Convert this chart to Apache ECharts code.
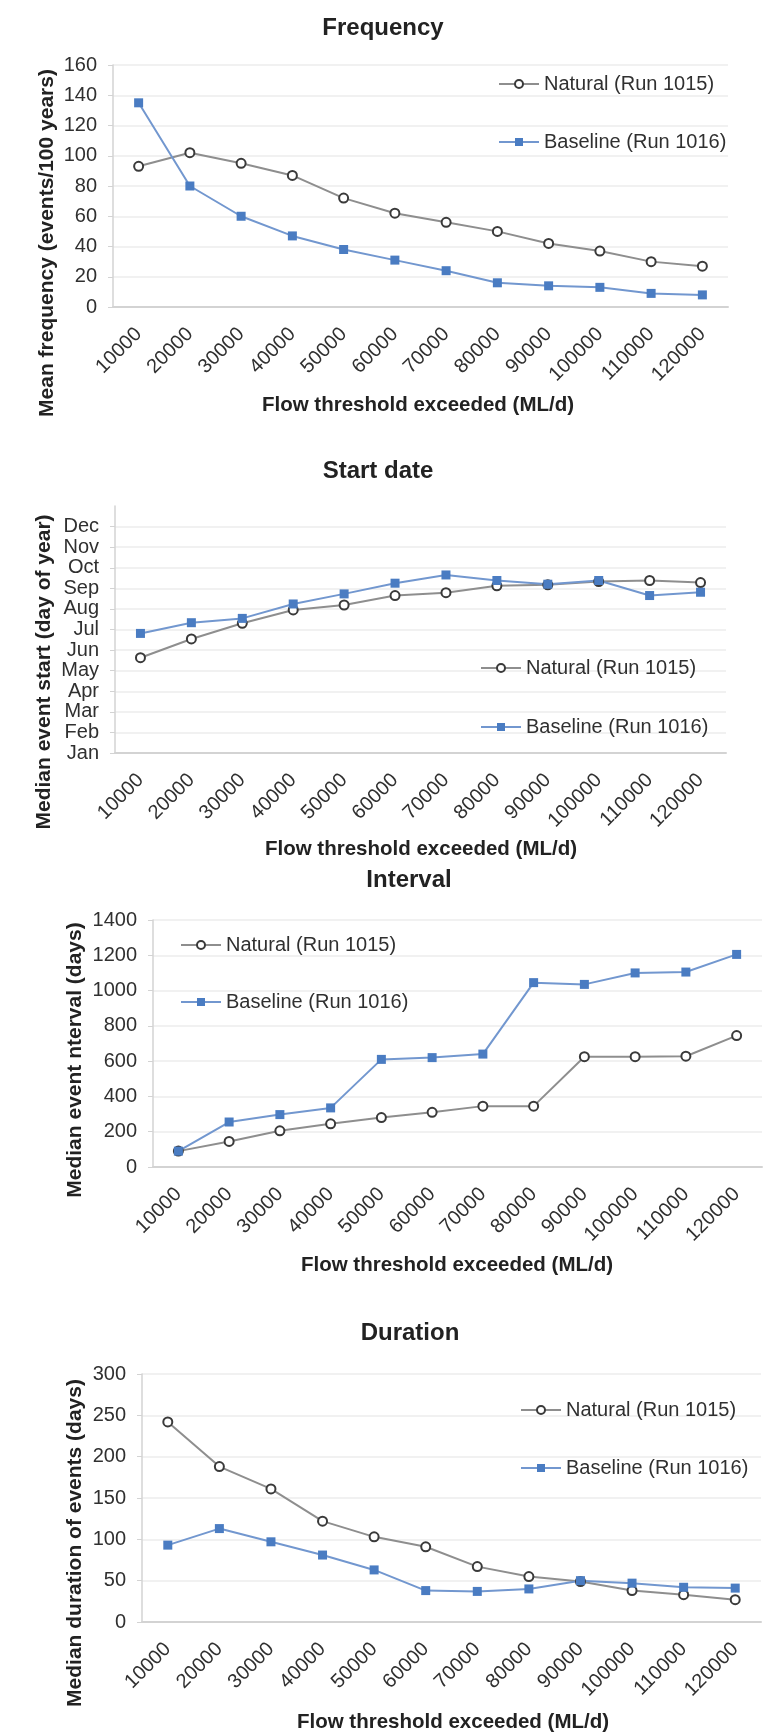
<!DOCTYPE html>
<html><head><meta charset="utf-8">
<script src="https://cdn.jsdelivr.net/npm/echarts@6/dist/echarts.min.js"></script>
<style>html,body{margin:0;padding:0;background:#fff}#c{width:776px;height:1733px}</style>
</head><body><div id="c"></div>
<script>
// ---------- data ----------
const thresholds = ['10000','20000','30000','40000','50000','60000','70000','80000','90000','100000','110000','120000'];
const seriesNames = ['Natural (Run 1015)', 'Baseline (Run 1016)'];
const panelTitles = ['Frequency', 'Start date', 'Interval', 'Duration'];
const yAxisTitles = ['Mean frequency (events/100 years)', 'Median event start (day of year)', 'Median event nterval (days)', 'Median duration of events (days)'];
const xAxisTitle = 'Flow threshold exceeded (ML/d)';
const monthLabels = ['Jan','Feb','Mar','Apr','May','Jun','Jul','Aug','Sep','Oct','Nov','Dec'];

const frequencyNatural  = [93, 102, 95, 87, 72, 62, 56, 50, 42, 37, 30, 27];
const frequencyBaseline = [135, 80, 60, 47, 38, 31, 24, 16, 14, 13, 9, 8];

// start date in month units (0 = Jan gridline)
const startNatural  = [4.63, 5.54, 6.30, 6.95, 7.19, 7.65, 7.79, 8.12, 8.17, 8.33, 8.38, 8.28];
const startBaseline = [5.81, 6.33, 6.54, 7.24, 7.73, 8.25, 8.65, 8.38, 8.20, 8.38, 7.65, 7.81];

const intervalNatural  = [90, 145, 205, 245, 280, 310, 345, 345, 625, 625, 628, 745];
const intervalBaseline = [90, 255, 297, 335, 610, 620, 640, 1045, 1035, 1100, 1105, 1205];

const durationNatural  = [242, 188, 161, 122, 103, 91, 67, 55, 49, 38, 33, 27];
const durationBaseline = [93, 113, 97, 81, 63, 38, 37, 40, 50, 47, 42, 41];

const yMin = [0, 0, 0, 0];
const yMax = [160, 12, 1400, 300];
const yInterval = [20, 1, 200, 50];

// ---------- layout ----------
const layouts = [
  {grid:{left:113, top:65,   width:615, height:242}, title:[383,28],   yTitle:[47,243],  xTitle:[418,405],  legend:{left:493, top:69,   gap:38}},
  {grid:{left:115, top:506,  width:611, height:247}, title:[378,471],  yTitle:[44,672],  xTitle:[421,849],  legend:{left:475, top:653,  gap:39}},
  {grid:{left:153, top:920,  width:609, height:247}, title:[409,880],  yTitle:[75,1060], xTitle:[457,1265], legend:{left:175, top:930,  gap:37}},
  {grid:{left:142, top:1374, width:619, height:248}, title:[410,1333], yTitle:[75,1543], xTitle:[453,1722], legend:{left:515, top:1395, gap:38}}
];
const naturalData  = [frequencyNatural, startNatural, intervalNatural, durationNatural];
const baselineData = [frequencyBaseline, startBaseline, intervalBaseline, durationBaseline];

const FONT = '"Liberation Sans", Arial, Helvetica, sans-serif';
const TXT = '#303030';

const option = {
  animation: false,
  backgroundColor: '#fff',
  grid: [], xAxis: [], yAxis: [], series: [], legend: [], graphic: []
};

layouts.forEach((L, i) => {
  option.grid.push(Object.assign({containLabel:false}, L.grid));
  option.xAxis.push({
    type:'category', gridIndex:i, data:thresholds, boundaryGap:true,
    axisLine:{show:true, lineStyle:{color:'#d3d3d3', width:2}},
    axisTick:{show:false},
    axisLabel:{rotate:45, margin:24, fontSize:20, color:TXT, fontFamily:FONT, interval:0},
    splitLine:{show:false}
  });
  const y = {
    type:'value', gridIndex:i, min:yMin[i], max:yMax[i], interval:yInterval[i],
    axisLine:{show:true, lineStyle:{color:'#d3d3d3', width:1.5}},
    axisTick:{show:true, length:5, lineStyle:{color:'#d3d3d3'}},
    axisLabel:{fontSize:20, color:TXT, fontFamily:FONT, margin:16, formatter: v => String(v)},
    splitLine:{show:true, lineStyle:{color:'#ececec', width:1.5}}
  };
  if (i === 1) {
    y.axisLabel.formatter = v => monthLabels[v] || '';
    y.axisLabel.showMaxLabel = false;
    y.axisLabel.lineHeight = 20;
    y.splitLine.showMaxLine = false;
  }
  option.yAxis.push(y);

  option.series.push({
    name: seriesNames[0], type:'line', xAxisIndex:i, yAxisIndex:i,
    data: naturalData[i], symbol:'emptyCircle', symbolSize:9,
    lineStyle:{color:'#8e8e8e', width:2},
    itemStyle:{color:'#3a3a3a', borderWidth:2}
  });
  option.series.push({
    name: seriesNames[1], type:'line', xAxisIndex:i, yAxisIndex:i,
    data: baselineData[i], symbol:'rect', symbolSize:9,
    lineStyle:{color:'#7297cf', width:2},
    itemStyle:{color:'#4a7cc2'}
  });

  option.legend.push({
    orient:'vertical', left:L.legend.left, top:L.legend.top, itemGap:L.legend.gap,
    itemWidth:40, itemHeight:10, selectedMode:false,
    data: seriesNames,
    textStyle:{fontSize:20, color:TXT, fontFamily:FONT, lineHeight:20}
  });

  option.graphic.push({
    type:'text', x:L.title[0], y:L.title[1],
    style:{text:panelTitles[i], font:'bold 24px ' + FONT, fill:'#222', align:'center', verticalAlign:'middle', textAlign:'center', textVerticalAlign:'middle'}
  });
  option.graphic.push({
    type:'text', x:L.yTitle[0], y:L.yTitle[1], rotation:Math.PI/2,
    style:{text:yAxisTitles[i], font:'bold 21px ' + FONT, fill:'#222', align:'center', verticalAlign:'middle', textAlign:'center', textVerticalAlign:'middle'}
  });
  option.graphic.push({
    type:'text', x:L.xTitle[0], y:L.xTitle[1],
    style:{text:xAxisTitle, font:'bold 20.5px ' + FONT, fill:'#222', align:'center', verticalAlign:'middle', textAlign:'center', textVerticalAlign:'middle'}
  });
});

const chart = echarts.init(document.getElementById('c'), null, {renderer:'canvas'});
chart.setOption(option);
</script>
</body></html>
